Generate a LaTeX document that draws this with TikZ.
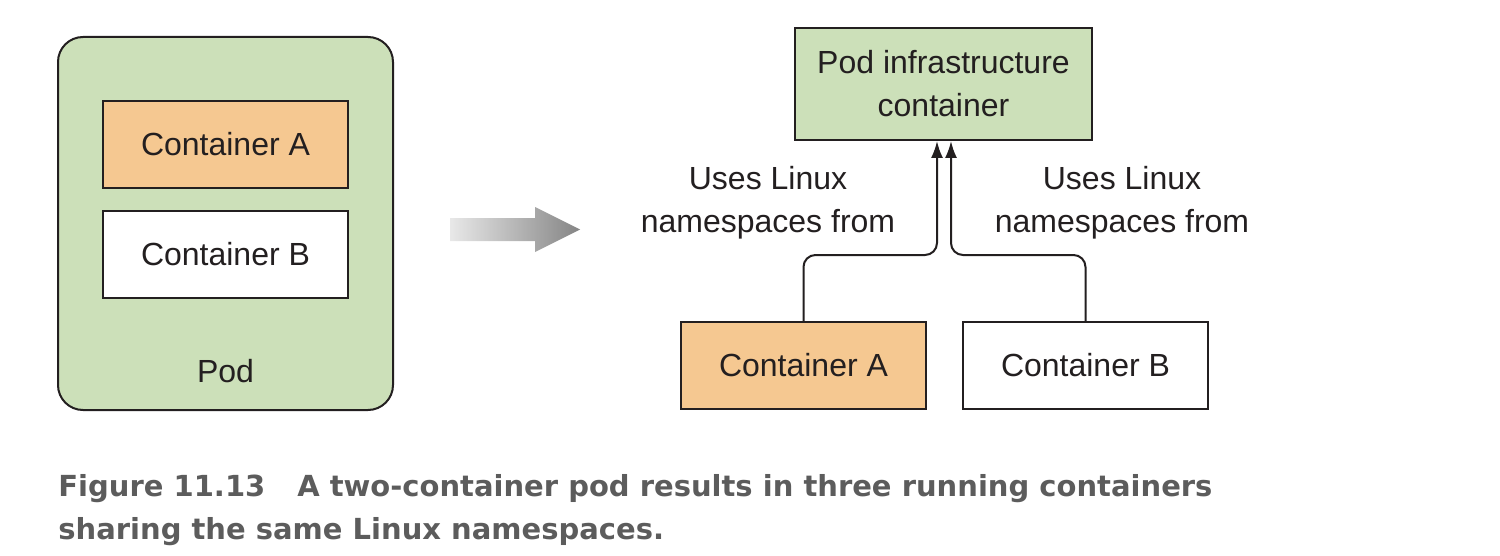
\documentclass[tikz,border=0pt]{standalone}
\usepackage{fontspec}
\setmainfont{Liberation Sans}
\newfontfamily\capfont{DejaVu Sans}
\usetikzlibrary{positioning,arrows.meta}
\definecolor{podgreen}{RGB}{204,224,185}
\definecolor{cntorange}{RGB}{245,200,145}
\definecolor{inkgray}{RGB}{35,31,32}
\definecolor{capgray}{RGB}{92,92,92}
\begin{document}
\begin{tikzpicture}
		[x=0.5pt,y=-0.5pt,
		font=\fontsize{16}{21.5}\selectfont,text=inkgray,
		pod/.style={rectangle,rounded corners=12.5pt,draw=inkgray,fill=podgreen,line width=1pt,minimum width=167.5pt,minimum height=186.5pt},
		cnt/.style={rectangle,draw=inkgray,fill=white,line width=1pt,inner sep=0pt,minimum width=122.5pt,minimum height=43.5pt},
		cnta/.style={cnt,fill=cntorange},
		infra/.style={rectangle,draw=inkgray,fill=podgreen,line width=1pt,inner sep=0pt,minimum width=148.5pt,minimum height=56pt,align=center},
		link/.style={draw=inkgray,line width=1pt,rounded corners=6pt,-{Latex[length=8.5pt,width=6pt]}}]
		\useasboundingbox (0,0) rectangle (1500,556);

		% left side: the pod
		\node [pod] (pod) at (225.5,223.5) {};
		\node [cnta] (la) at (225.5,144.5) {Container A};
		\node [cnt] (lb) [below=10.5pt of la] {Container B};
		\node (podlabel) at (225.5,371) {Pod};

		% shaded arrow between the two halves
		\shade [left color=black!9,right color=black!48]
			(450,218) -- (535,218) -- (535,207) -- (580,229.5) -- (535,252) -- (535,241) -- (450,241) -- cycle;

		% right side: three running containers
		\node [infra] (pic) at (943.5,84) {Pod infrastructure\\container};
		\node [cnta] (ra) at (803.5,365.5) {Container A};
		\node [cnt] (rb) [right=17.5pt of ra] {Container B};

		\coordinate (bend) at (943.5,255);
		\coordinate (pl) at ([xshift=-3.25pt]pic.south);
		\coordinate (pr) at ([xshift=3.75pt]pic.south);
		\draw [link] (ra.north) |- (bend -| pl) -- (pl);
		\draw [link] (rb.north) |- (bend -| pr) -- (pr);

		\node [align=center] (usea) at (768,203) {Uses Linux\\namespaces from};
		\node [align=center] (useb) at (1122,203) {Uses Linux\\namespaces from};

		\node [anchor=base west,align=left,inner sep=0pt,text=capgray,
			font=\capfont\bfseries\fontsize{14.5}{21.5}\selectfont] (caption) at (58,539)
			{Figure 11.13\hspace{1.1em}A two-container pod results in three running containers\\
			sharing the same Linux namespaces.};
	\end{tikzpicture}
\end{document}
